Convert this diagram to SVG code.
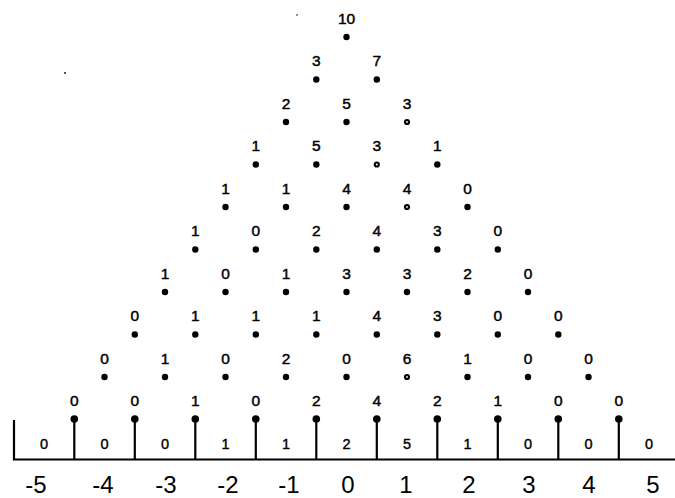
<svg xmlns="http://www.w3.org/2000/svg" width="675" height="498" viewBox="0 0 675 498">
<style>
.d{fill:#000}
.h{fill:#fff;stroke:#000;stroke-width:2.2}
.l{font-family:"Liberation Sans",Arial,sans-serif;font-size:15.5px;text-anchor:middle;fill:#000;stroke:#000;stroke-width:0.45}
.b{font-family:"Liberation Sans",Arial,sans-serif;font-size:14.5px;text-anchor:middle;fill:#000;stroke:#000;stroke-width:0.4}
.ax{font-family:"Liberation Sans",Arial,sans-serif;font-size:24px;text-anchor:middle;fill:#000}
.ln{stroke:#000;stroke-width:2.2;fill:none}
</style>
<rect width="675" height="498" fill="#fff"/>
<g id="connectors">
<polyline class="ln" points="14,420 14,459.5 675,459.5"/>
<line class="ln" x1="74.3" y1="419" x2="74.3" y2="459.5"/>
<line class="ln" x1="134.8" y1="419" x2="134.8" y2="459.5"/>
<line class="ln" x1="195.3" y1="419" x2="195.3" y2="459.5"/>
<line class="ln" x1="255.8" y1="419" x2="255.8" y2="459.5"/>
<line class="ln" x1="316.3" y1="419" x2="316.3" y2="459.5"/>
<line class="ln" x1="376.8" y1="419" x2="376.8" y2="459.5"/>
<line class="ln" x1="437.3" y1="419" x2="437.3" y2="459.5"/>
<line class="ln" x1="497.8" y1="419" x2="497.8" y2="459.5"/>
<line class="ln" x1="558.3" y1="419" x2="558.3" y2="459.5"/>
<line class="ln" x1="618.8" y1="419" x2="618.8" y2="459.5"/>
</g>
<g id="r0">
<g id="n0_0"><circle class="d" cx="346.5" cy="37" r="3.2"/><text class="l" x="346.5" y="23.5">10</text></g>
</g>
<g id="r1">
<g id="n1_0"><circle class="d" cx="316.3" cy="79.5" r="3.2"/><text class="l" x="316.3" y="66">3</text></g>
<g id="n1_1"><circle class="d" cx="376.8" cy="79.5" r="3.2"/><text class="l" x="376.8" y="66">7</text></g>
</g>
<g id="r2">
<g id="n2_0"><circle class="d" cx="286" cy="122" r="3.2"/><text class="l" x="286" y="108.5">2</text></g>
<g id="n2_1"><circle class="d" cx="346.5" cy="122" r="3.2"/><text class="l" x="346.5" y="108.5">5</text></g>
<g id="n2_2"><circle class="h" cx="407" cy="122" r="2"/><text class="l" x="407" y="108.5">3</text></g>
</g>
<g id="r3">
<g id="n3_0"><circle class="d" cx="255.8" cy="164.5" r="3.2"/><text class="l" x="255.8" y="151">1</text></g>
<g id="n3_1"><circle class="d" cx="316.3" cy="164.5" r="3.2"/><text class="l" x="316.3" y="151">5</text></g>
<g id="n3_2"><circle class="h" cx="376.8" cy="164.5" r="2"/><text class="l" x="376.8" y="151">3</text></g>
<g id="n3_3"><circle class="d" cx="437.3" cy="164.5" r="3.2"/><text class="l" x="437.3" y="151">1</text></g>
</g>
<g id="r4">
<g id="n4_0"><circle class="d" cx="225.5" cy="207" r="3.2"/><text class="l" x="225.5" y="193.5">1</text></g>
<g id="n4_1"><circle class="d" cx="286" cy="207" r="3.2"/><text class="l" x="286" y="193.5">1</text></g>
<g id="n4_2"><circle class="d" cx="346.5" cy="207" r="3.2"/><text class="l" x="346.5" y="193.5">4</text></g>
<g id="n4_3"><circle class="h" cx="407" cy="207" r="2"/><text class="l" x="407" y="193.5">4</text></g>
<g id="n4_4"><circle class="d" cx="467.5" cy="207" r="3.2"/><text class="l" x="467.5" y="193.5">0</text></g>
</g>
<g id="r5">
<g id="n5_0"><circle class="d" cx="195.3" cy="249.5" r="3.2"/><text class="l" x="195.3" y="236">1</text></g>
<g id="n5_1"><circle class="d" cx="255.8" cy="249.5" r="3.2"/><text class="l" x="255.8" y="236">0</text></g>
<g id="n5_2"><circle class="d" cx="316.3" cy="249.5" r="3.2"/><text class="l" x="316.3" y="236">2</text></g>
<g id="n5_3"><circle class="d" cx="376.8" cy="249.5" r="3.2"/><text class="l" x="376.8" y="236">4</text></g>
<g id="n5_4"><circle class="d" cx="437.3" cy="249.5" r="3.2"/><text class="l" x="437.3" y="236">3</text></g>
<g id="n5_5"><circle class="d" cx="497.8" cy="249.5" r="3.2"/><text class="l" x="497.8" y="236">0</text></g>
</g>
<g id="r6">
<g id="n6_0"><circle class="d" cx="165" cy="292" r="3.2"/><text class="l" x="165" y="278.5">1</text></g>
<g id="n6_1"><circle class="d" cx="225.5" cy="292" r="3.2"/><text class="l" x="225.5" y="278.5">0</text></g>
<g id="n6_2"><circle class="d" cx="286" cy="292" r="3.2"/><text class="l" x="286" y="278.5">1</text></g>
<g id="n6_3"><circle class="d" cx="346.5" cy="292" r="3.2"/><text class="l" x="346.5" y="278.5">3</text></g>
<g id="n6_4"><circle class="d" cx="407" cy="292" r="3.2"/><text class="l" x="407" y="278.5">3</text></g>
<g id="n6_5"><circle class="d" cx="467.5" cy="292" r="3.2"/><text class="l" x="467.5" y="278.5">2</text></g>
<g id="n6_6"><circle class="d" cx="528" cy="292" r="3.2"/><text class="l" x="528" y="278.5">0</text></g>
</g>
<g id="r7">
<g id="n7_0"><circle class="d" cx="134.8" cy="334.5" r="3.2"/><text class="l" x="134.8" y="321">0</text></g>
<g id="n7_1"><circle class="d" cx="195.3" cy="334.5" r="3.2"/><text class="l" x="195.3" y="321">1</text></g>
<g id="n7_2"><circle class="d" cx="255.8" cy="334.5" r="3.2"/><text class="l" x="255.8" y="321">1</text></g>
<g id="n7_3"><circle class="d" cx="316.3" cy="334.5" r="3.2"/><text class="l" x="316.3" y="321">1</text></g>
<g id="n7_4"><circle class="d" cx="376.8" cy="334.5" r="3.2"/><text class="l" x="376.8" y="321">4</text></g>
<g id="n7_5"><circle class="d" cx="437.3" cy="334.5" r="3.2"/><text class="l" x="437.3" y="321">3</text></g>
<g id="n7_6"><circle class="d" cx="497.8" cy="334.5" r="3.2"/><text class="l" x="497.8" y="321">0</text></g>
<g id="n7_7"><circle class="d" cx="558.3" cy="334.5" r="3.2"/><text class="l" x="558.3" y="321">0</text></g>
</g>
<g id="r8">
<g id="n8_0"><circle class="d" cx="104.5" cy="377" r="3.2"/><text class="l" x="104.5" y="363.5">0</text></g>
<g id="n8_1"><circle class="d" cx="165" cy="377" r="3.2"/><text class="l" x="165" y="363.5">1</text></g>
<g id="n8_2"><circle class="d" cx="225.5" cy="377" r="3.2"/><text class="l" x="225.5" y="363.5">0</text></g>
<g id="n8_3"><circle class="d" cx="286" cy="377" r="3.2"/><text class="l" x="286" y="363.5">2</text></g>
<g id="n8_4"><circle class="d" cx="346.5" cy="377" r="3.2"/><text class="l" x="346.5" y="363.5">0</text></g>
<g id="n8_5"><circle class="h" cx="407" cy="377" r="2"/><text class="l" x="407" y="363.5">6</text></g>
<g id="n8_6"><circle class="d" cx="467.5" cy="377" r="3.2"/><text class="l" x="467.5" y="363.5">1</text></g>
<g id="n8_7"><circle class="d" cx="528" cy="377" r="3.2"/><text class="l" x="528" y="363.5">0</text></g>
<g id="n8_8"><circle class="d" cx="588.5" cy="377" r="3.2"/><text class="l" x="588.5" y="363.5">0</text></g>
</g>
<g id="r9">
<g id="n9_0"><circle class="d" cx="74.3" cy="419" r="3.8"/><text class="l" x="74.3" y="405.5">0</text></g>
<g id="n9_1"><circle class="d" cx="134.8" cy="419" r="3.8"/><text class="l" x="134.8" y="405.5">0</text></g>
<g id="n9_2"><circle class="d" cx="195.3" cy="419" r="3.8"/><text class="l" x="195.3" y="405.5">1</text></g>
<g id="n9_3"><circle class="d" cx="255.8" cy="419" r="3.8"/><text class="l" x="255.8" y="405.5">0</text></g>
<g id="n9_4"><circle class="d" cx="316.3" cy="419" r="3.8"/><text class="l" x="316.3" y="405.5">2</text></g>
<g id="n9_5"><circle class="d" cx="376.8" cy="419" r="3.8"/><text class="l" x="376.8" y="405.5">4</text></g>
<g id="n9_6"><circle class="d" cx="437.3" cy="419" r="3.8"/><text class="l" x="437.3" y="405.5">2</text></g>
<g id="n9_7"><circle class="d" cx="497.8" cy="419" r="3.8"/><text class="l" x="497.8" y="405.5">1</text></g>
<g id="n9_8"><circle class="d" cx="558.3" cy="419" r="3.8"/><text class="l" x="558.3" y="405.5">0</text></g>
<g id="n9_9"><circle class="d" cx="618.8" cy="419" r="3.8"/><text class="l" x="618.8" y="405.5">0</text></g>
</g>
<g id="bins">
<text class="b" x="44" y="449">0</text>
<text class="b" x="104.5" y="449">0</text>
<text class="b" x="165" y="449">0</text>
<text class="b" x="225.5" y="449">1</text>
<text class="b" x="286" y="449">1</text>
<text class="b" x="346.5" y="449">2</text>
<text class="b" x="407" y="449">5</text>
<text class="b" x="467.5" y="449">1</text>
<text class="b" x="528" y="449">0</text>
<text class="b" x="588.5" y="449">0</text>
<text class="b" x="649" y="449">0</text>
</g>
<g id="axis">
<text class="ax" x="36" y="493">-5</text>
<text class="ax" x="103" y="493">-4</text>
<text class="ax" x="166" y="493">-3</text>
<text class="ax" x="228" y="493">-2</text>
<text class="ax" x="289" y="493">-1</text>
<text class="ax" x="348" y="493">0</text>
<text class="ax" x="406" y="493">1</text>
<text class="ax" x="469" y="493">2</text>
<text class="ax" x="529" y="493">3</text>
<text class="ax" x="589" y="493">4</text>
<text class="ax" x="653" y="493">5</text>
</g>
<g id="specks">
<circle class="d" cx="65" cy="73" r="0.9"/>
<circle class="d" cx="297" cy="15" r="0.8"/>
</g>
</svg>
